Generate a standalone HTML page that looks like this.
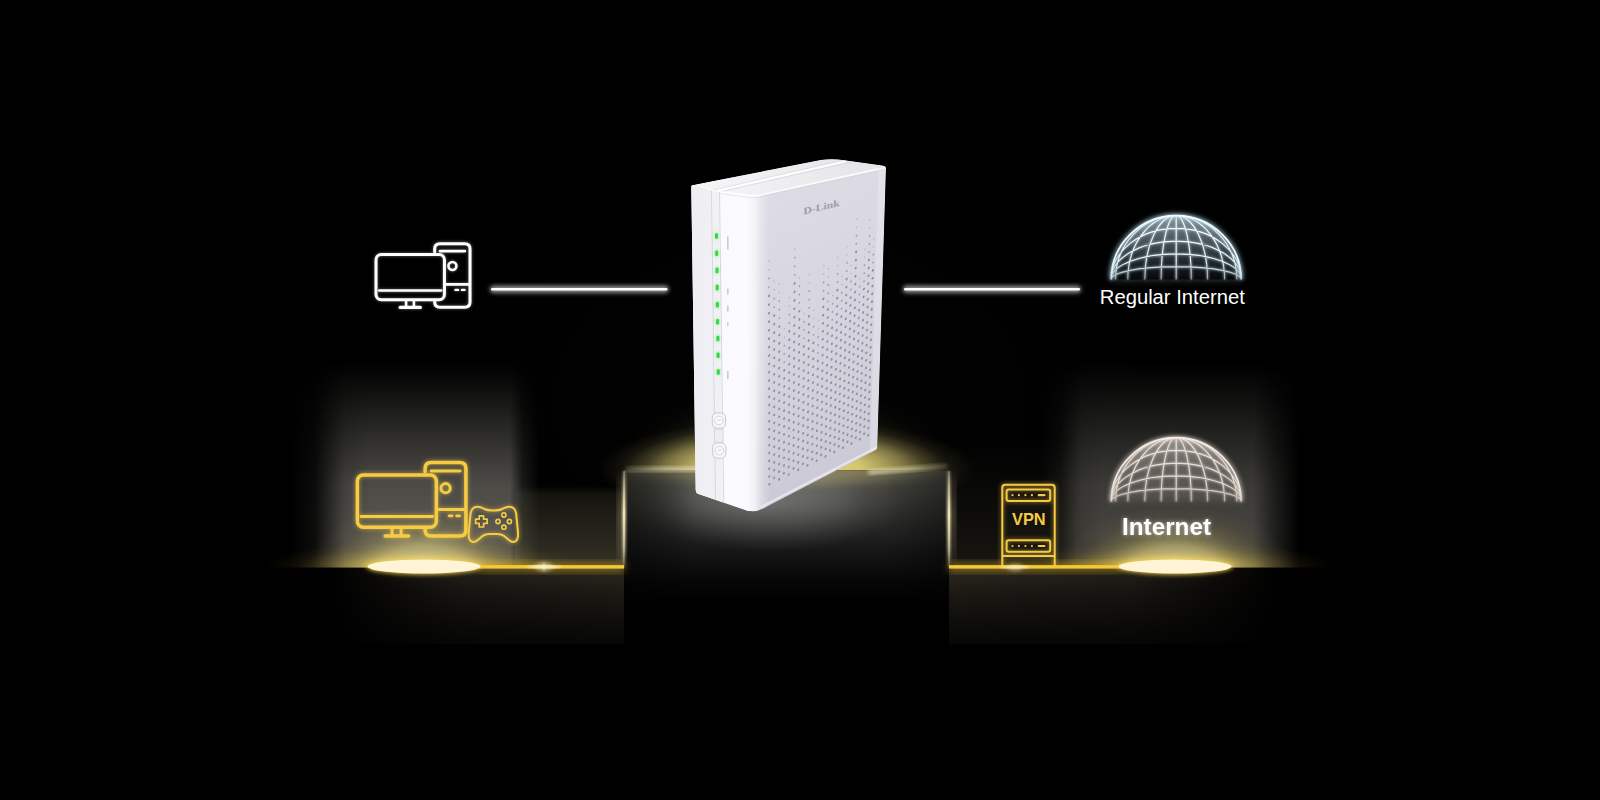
<!DOCTYPE html>
<html lang="en"><head><meta charset="utf-8"><title>VPN Router</title>
<style>html,body{margin:0;padding:0;background:#000;width:1600px;height:800px;overflow:hidden}svg{display:block}text{font-family:"Liberation Sans",sans-serif}</style>
</head><body>
<svg width="1600" height="800" viewBox="0 0 1600 800">
<defs>
<radialGradient id="bgG" cx="790" cy="400" r="1" gradientUnits="userSpaceOnUse" gradientTransform="translate(790 400) scale(430 300) translate(-790 -400)"><stop offset="0" stop-color="#0b0b0b"/><stop offset="0.6" stop-color="#040404"/><stop offset="1" stop-color="#000"/></radialGradient>
<filter id="b2" x="-50%" y="-50%" width="200%" height="200%"><feGaussianBlur stdDeviation="2"/></filter>
<filter id="b1" x="-50%" y="-50%" width="200%" height="200%"><feGaussianBlur stdDeviation="1.2"/></filter>
<filter id="b4" x="-50%" y="-50%" width="200%" height="200%"><feGaussianBlur stdDeviation="4"/></filter>
<filter id="b8" x="-50%" y="-50%" width="200%" height="200%"><feGaussianBlur stdDeviation="8"/></filter>
<filter id="b14" x="-50%" y="-50%" width="200%" height="200%"><feGaussianBlur stdDeviation="14"/></filter>
<filter id="b25" x="-50%" y="-50%" width="200%" height="200%"><feGaussianBlur stdDeviation="25"/></filter>
<linearGradient id="beamL" x1="0" y1="362" x2="0" y2="567" gradientUnits="userSpaceOnUse"><stop offset="0" stop-color="#8a8880" stop-opacity="0"/><stop offset="0.12" stop-color="#8a8880" stop-opacity="0.1"/><stop offset="0.35" stop-color="#8a8880" stop-opacity="0.32"/><stop offset="0.6" stop-color="#8a8880" stop-opacity="0.55"/><stop offset="0.8" stop-color="#8a8880" stop-opacity="0.62"/><stop offset="1" stop-color="#8a8880" stop-opacity="0.58"/></linearGradient>
<radialGradient id="discGlow" cx="0.5" cy="0.5" r="0.5"><stop offset="0" stop-color="#f8e278" stop-opacity="1"/><stop offset="0.36" stop-color="#f0d258" stop-opacity="0.8"/><stop offset="0.58" stop-color="#d8b840" stop-opacity="0.36"/><stop offset="0.8" stop-color="#c0a030" stop-opacity="0.1"/><stop offset="1" stop-color="#c0a030" stop-opacity="0"/></radialGradient>
<radialGradient id="pedGlow" cx="0.5" cy="0.5" r="0.5"><stop offset="0" stop-color="#f3e48e" stop-opacity="1"/><stop offset="0.55" stop-color="#e6d272" stop-opacity="0.95"/><stop offset="0.75" stop-color="#d6c060" stop-opacity="0.6"/><stop offset="0.9" stop-color="#c4ac4c" stop-opacity="0.25"/><stop offset="1" stop-color="#b89c38" stop-opacity="0"/></radialGradient><radialGradient id="pedHalo" cx="0.5" cy="0.5" r="0.5"><stop offset="0" stop-color="#b8a868" stop-opacity="0.6"/><stop offset="0.5" stop-color="#a09058" stop-opacity="0.38"/><stop offset="0.8" stop-color="#8a7c48" stop-opacity="0.12"/><stop offset="1" stop-color="#8a7c48" stop-opacity="0"/></radialGradient>
<linearGradient id="bandG" x1="0" y1="486" x2="0" y2="567" gradientUnits="userSpaceOnUse"><stop offset="0" stop-color="#58543f" stop-opacity="0"/><stop offset="0.1" stop-color="#58543f" stop-opacity="0.22"/><stop offset="1" stop-color="#58543f" stop-opacity="0.6"/></linearGradient>
<linearGradient id="pedG" x1="0" y1="470" x2="0" y2="602" gradientUnits="userSpaceOnUse"><stop offset="0" stop-color="#4a4943"/><stop offset="0.2" stop-color="#3b3b37"/><stop offset="0.42" stop-color="#272726"/><stop offset="0.63" stop-color="#151515"/><stop offset="0.85" stop-color="#060606"/><stop offset="1" stop-color="#000"/></linearGradient><radialGradient id="pedHi" cx="770" cy="502" r="1" gradientUnits="userSpaceOnUse" gradientTransform="translate(770 502) scale(135 50) translate(-770 -502)"><stop offset="0" stop-color="#fff" stop-opacity="0.2"/><stop offset="0.5" stop-color="#fff" stop-opacity="0.1"/><stop offset="1" stop-color="#fff" stop-opacity="0"/></radialGradient><linearGradient id="pedSide" x1="624" y1="0" x2="949" y2="0" gradientUnits="userSpaceOnUse"><stop offset="0" stop-color="#000" stop-opacity="0.45"/><stop offset="0.22" stop-color="#000" stop-opacity="0"/><stop offset="0.8" stop-color="#000" stop-opacity="0"/><stop offset="1" stop-color="#000" stop-opacity="0.4"/></linearGradient>
<clipPath id="aboveFloor"><rect x="0" y="0" width="1600" height="567.5"/></clipPath>
<clipPath id="abovePed"><rect x="0" y="0" width="1600" height="470.5"/></clipPath>
<clipPath id="pedClip"><rect x="624" y="470.5" width="325" height="330"/></clipPath>
<linearGradient id="rFront" x1="691" y1="0" x2="760" y2="0" gradientUnits="userSpaceOnUse"><stop offset="0" stop-color="#f3f3f6"/><stop offset="0.25" stop-color="#fafafc"/><stop offset="0.8" stop-color="#fbfbfd"/><stop offset="1" stop-color="#fbfbfd"/></linearGradient>
<linearGradient id="rSide" x1="760" y1="200" x2="890" y2="470" gradientUnits="userSpaceOnUse"><stop offset="0" stop-color="#dddce5"/><stop offset="0.5" stop-color="#d5d4de"/><stop offset="1" stop-color="#c9c8d4"/></linearGradient>
<linearGradient id="rCorner" x1="746" y1="0" x2="770" y2="0" gradientUnits="userSpaceOnUse"><stop offset="0" stop-color="#fbfbfd" stop-opacity="1"/><stop offset="0.35" stop-color="#f8f8fb" stop-opacity="0.85"/><stop offset="0.7" stop-color="#f0f0f5" stop-opacity="0.35"/><stop offset="1" stop-color="#f0f0f5" stop-opacity="0"/></linearGradient>
<linearGradient id="rTop" x1="700" y1="190" x2="860" y2="160" gradientUnits="userSpaceOnUse"><stop offset="0" stop-color="#f6f6f8"/><stop offset="1" stop-color="#e6e6ea"/></linearGradient>
<linearGradient id="domeFillW" x1="0" y1="215" x2="0" y2="280" gradientUnits="userSpaceOnUse"><stop offset="0" stop-color="#b9c6cc" stop-opacity="0.75"/><stop offset="0.55" stop-color="#59646a" stop-opacity="0.6"/><stop offset="1" stop-color="#10161a" stop-opacity="0.2"/></linearGradient>
<linearGradient id="domeFillY" x1="0" y1="215" x2="0" y2="280" gradientUnits="userSpaceOnUse"><stop offset="0" stop-color="#d6ccc6" stop-opacity="0.7"/><stop offset="0.55" stop-color="#8a8480" stop-opacity="0.5"/><stop offset="1" stop-color="#5a5652" stop-opacity="0.15"/></linearGradient>
<linearGradient id="lineFadeL" x1="624" y1="0" x2="482" y2="0" gradientUnits="userSpaceOnUse"><stop offset="0" stop-color="#f3c316"/><stop offset="1" stop-color="#f3c316"/></linearGradient>
<linearGradient id="edgeV" x1="0" y1="470" x2="0" y2="568" gradientUnits="userSpaceOnUse"><stop offset="0" stop-color="#fff4c0" stop-opacity="0.25"/><stop offset="0.45" stop-color="#fff4c0" stop-opacity="0.95"/><stop offset="0.8" stop-color="#fff4c0" stop-opacity="0.55"/><stop offset="1" stop-color="#fff4c0" stop-opacity="0.1"/></linearGradient>
<linearGradient id="hBeamL" x1="290" y1="0" x2="540" y2="0" gradientUnits="userSpaceOnUse"><stop offset="0" stop-color="#fff" stop-opacity="0"/><stop offset="0.10" stop-color="#fff" stop-opacity="0.15"/><stop offset="0.22" stop-color="#fff" stop-opacity="0.85"/><stop offset="0.32" stop-color="#fff" stop-opacity="1"/><stop offset="0.88" stop-color="#fff" stop-opacity="1"/><stop offset="0.93" stop-color="#fff" stop-opacity="0.35"/><stop offset="1" stop-color="#fff" stop-opacity="0"/></linearGradient>
<mask id="mBeamL" maskUnits="userSpaceOnUse" x="290" y="350" width="250" height="230"><rect x="290" y="350" width="250" height="230" fill="url(#hBeamL)"/></mask>
<linearGradient id="hBeamR" x1="1040" y1="0" x2="1300" y2="0" gradientUnits="userSpaceOnUse"><stop offset="0" stop-color="#fff" stop-opacity="0"/><stop offset="0.08" stop-color="#fff" stop-opacity="0.25"/><stop offset="0.16" stop-color="#fff" stop-opacity="0.9"/><stop offset="0.24" stop-color="#fff" stop-opacity="1"/><stop offset="0.82" stop-color="#fff" stop-opacity="1"/><stop offset="0.9" stop-color="#fff" stop-opacity="0.5"/><stop offset="1" stop-color="#fff" stop-opacity="0"/></linearGradient>
<mask id="mBeamR" maskUnits="userSpaceOnUse" x="1040" y="350" width="260" height="230"><rect x="1040" y="350" width="260" height="230" fill="url(#hBeamR)"/></mask>
<linearGradient id="bandG2" x1="0" y1="440" x2="0" y2="567" gradientUnits="userSpaceOnUse"><stop offset="0" stop-color="#4a4638" stop-opacity="0"/><stop offset="0.5" stop-color="#4a4638" stop-opacity="0.14"/><stop offset="1" stop-color="#4a4638" stop-opacity="0.3"/></linearGradient>
<linearGradient id="slabV" x1="0" y1="568" x2="0" y2="644" gradientUnits="userSpaceOnUse"><stop offset="0" stop-color="#2e2a20"/><stop offset="0.3" stop-color="#1d1a15"/><stop offset="0.7" stop-color="#0f0e0c"/><stop offset="1" stop-color="#070706"/></linearGradient>
<linearGradient id="hSlabL" x1="330" y1="0" x2="624" y2="0" gradientUnits="userSpaceOnUse"><stop offset="0" stop-color="#fff" stop-opacity="0"/><stop offset="0.45" stop-color="#fff" stop-opacity="0.8"/><stop offset="1" stop-color="#fff" stop-opacity="1"/></linearGradient>
<mask id="mSlabL" maskUnits="userSpaceOnUse" x="330" y="560" width="300" height="90"><rect x="330" y="560" width="300" height="90" fill="url(#hSlabL)"/></mask>
<linearGradient id="hSlabR" x1="1279" y1="0" x2="949" y2="0" gradientUnits="userSpaceOnUse"><stop offset="0" stop-color="#fff" stop-opacity="0"/><stop offset="0.45" stop-color="#fff" stop-opacity="0.8"/><stop offset="1" stop-color="#fff" stop-opacity="1"/></linearGradient>
<mask id="mSlabR" maskUnits="userSpaceOnUse" x="940" y="560" width="345" height="90"><rect x="940" y="560" width="345" height="90" fill="url(#hSlabR)"/></mask>
<radialGradient id="khaki" cx="0.5" cy="0.5" r="0.5"><stop offset="0" stop-color="#e8d87a" stop-opacity="1"/><stop offset="0.4" stop-color="#e3d378" stop-opacity="0.92"/><stop offset="0.55" stop-color="#decf76" stop-opacity="0.68"/><stop offset="0.65" stop-color="#dacb74" stop-opacity="0.5"/><stop offset="0.75" stop-color="#d6c772" stop-opacity="0.27"/><stop offset="0.87" stop-color="#d2c370" stop-opacity="0.08"/><stop offset="1" stop-color="#d2c370" stop-opacity="0"/></radialGradient>
<linearGradient id="strkL" x1="626" y1="0" x2="698" y2="0" gradientUnits="userSpaceOnUse"><stop offset="0" stop-color="#e8dfb4" stop-opacity="0.35"/><stop offset="0.5" stop-color="#ece3b8" stop-opacity="0.85"/><stop offset="1" stop-color="#f0e8c0" stop-opacity="1"/></linearGradient>
<linearGradient id="strkR" x1="868" y1="0" x2="948" y2="0" gradientUnits="userSpaceOnUse"><stop offset="0" stop-color="#f0e8c0" stop-opacity="1"/><stop offset="0.5" stop-color="#ece3b8" stop-opacity="0.85"/><stop offset="1" stop-color="#e8dfb4" stop-opacity="0.3"/></linearGradient>
<radialGradient id="discGlow2" cx="0.5" cy="0.5" r="0.5"><stop offset="0" stop-color="#faf0b4" stop-opacity="1"/><stop offset="0.36" stop-color="#f0e08a" stop-opacity="0.75"/><stop offset="0.58" stop-color="#d8c468" stop-opacity="0.34"/><stop offset="0.8" stop-color="#c0aa50" stop-opacity="0.1"/><stop offset="1" stop-color="#c0aa50" stop-opacity="0"/></radialGradient>
<filter id="txtGlow" x="-20%" y="-50%" width="140%" height="200%"><feGaussianBlur in="SourceGraphic" stdDeviation="2" result="bl"/><feComponentTransfer in="bl" result="bl2"><feFuncA type="linear" slope="0.6"/></feComponentTransfer><feMerge><feMergeNode in="bl2"/><feMergeNode in="SourceGraphic"/></feMerge></filter>
</defs>
<rect width="1600" height="800" fill="#000"/>
<rect width="1600" height="800" fill="url(#bgG)" opacity="0.25"/>
<g clip-path="url(#aboveFloor)">
<rect x="290" y="360" width="250" height="208" fill="url(#beamL)" mask="url(#mBeamL)"/>
<rect x="515" y="470" width="109" height="98" fill="url(#bandG)"/>
<ellipse cx="424" cy="567.5" rx="160" ry="26" fill="url(#discGlow)" opacity="0.7"/>
<ellipse cx="424" cy="567.5" rx="118" ry="62" fill="url(#discGlow2)" opacity="0.7"/>
<rect x="1040" y="360" width="260" height="208" fill="url(#beamL)" mask="url(#mBeamR)" opacity="0.78"/>
<rect x="949" y="440" width="130" height="128" fill="url(#bandG2)"/>
<ellipse cx="1175" cy="567.5" rx="160" ry="26" fill="url(#discGlow)" opacity="0.7"/>
<ellipse cx="1175" cy="567.5" rx="118" ry="62" fill="url(#discGlow2)" opacity="0.7"/>
</g>
<rect x="330" y="568" width="294" height="76" fill="url(#slabV)" mask="url(#mSlabL)"/>
<rect x="949" y="568" width="330" height="76" fill="url(#slabV)" mask="url(#mSlabR)"/>
<ellipse cx="786" cy="470" rx="170" ry="85" fill="url(#khaki)" opacity="0.22"/>
<ellipse cx="786" cy="469" rx="188" ry="50" fill="url(#khaki)"/>
<rect x="624" y="470.5" width="325" height="330" fill="#000"/>
<rect x="624" y="470.5" width="325" height="330" fill="url(#pedG)"/>
<rect x="624" y="470.5" width="325" height="150" fill="url(#pedHi)"/>
<rect x="624" y="470.5" width="325" height="150" fill="url(#pedSide)"/>
<g clip-path="url(#pedClip)"><ellipse cx="786" cy="468" rx="190" ry="26" fill="url(#khaki)" opacity="0.36"/></g>
<rect x="626" y="467.6" width="72" height="3.4" fill="url(#strkL)" filter="url(#b2)"/>
<rect x="868" y="467.6" width="80" height="3.4" fill="url(#strkR)" filter="url(#b2)" transform="rotate(-4.5 908 469.5)"/>
<rect x="619" y="476" width="6" height="88" fill="url(#edgeV)" opacity="0.45" filter="url(#b4)"/>
<rect x="622.5" y="471" width="3" height="97" fill="url(#edgeV)" filter="url(#b1)"/>
<rect x="623.3" y="471" width="1.4" height="97" fill="url(#edgeV)"/>
<rect x="948" y="476" width="6" height="88" fill="url(#edgeV)" opacity="0.45" filter="url(#b4)"/>
<rect x="947.5" y="471" width="3" height="97" fill="url(#edgeV)" filter="url(#b1)"/>
<rect x="948.3" y="471" width="1.4" height="97" fill="url(#edgeV)"/>
<rect x="478" y="563" width="146" height="8" fill="#e0b020" opacity="0.55" filter="url(#b4)"/>
<rect x="478" y="565.1" width="146" height="3.5" fill="#f2c936"/>
<rect x="949" y="563" width="173" height="8" fill="#e0b020" opacity="0.55" filter="url(#b4)"/>
<rect x="949" y="565.1" width="173" height="3.5" fill="#f2c936"/>
<ellipse cx="544" cy="566.8" rx="9" ry="4" fill="#fff6c8" opacity="0.55" filter="url(#b2)"/><ellipse cx="544" cy="566.8" rx="18" ry="1.3" fill="#fffbe0" opacity="0.8" filter="url(#b1)"/><ellipse cx="544" cy="566.8" rx="1.2" ry="5" fill="#fffbe0" opacity="0.5" filter="url(#b1)"/>
<ellipse cx="1015" cy="567.2" rx="8" ry="3.5" fill="#fff6c8" opacity="0.45" filter="url(#b2)"/><ellipse cx="1015" cy="567.2" rx="15" ry="1.2" fill="#fffbe0" opacity="0.7" filter="url(#b1)"/>
<ellipse cx="424" cy="566.5" rx="58" ry="8.2" fill="#f0cf4a" opacity="0.9" filter="url(#b2)"/>
<ellipse cx="424" cy="566.5" rx="56.5" ry="7" fill="#fff5d6"/>
<ellipse cx="1175" cy="566.5" rx="58" ry="8.2" fill="#f0cf4a" opacity="0.9" filter="url(#b2)"/>
<ellipse cx="1175" cy="566.5" rx="56.5" ry="7" fill="#fff5d6"/>
<rect x="490" y="285.7" width="178.5" height="7" rx="3.5" fill="#fff" opacity="0.6" filter="url(#b2)"/>
<rect x="491" y="287.9" width="176.5" height="2.6" rx="1.3" fill="#fff"/>
<rect x="903" y="285.7" width="178" height="7" rx="3.5" fill="#fff" opacity="0.6" filter="url(#b2)"/>
<rect x="904" y="287.9" width="176" height="2.6" rx="1.3" fill="#fff"/>
<g transform="translate(355.6 473.2) scale(1.0)" fill="none" stroke="#f6cc45" stroke-linecap="round" stroke-linejoin="round"><g opacity="0.55" filter="url(#b2)"><path stroke-width="4.2" d="M69.5 -1.5 V-4.8 Q69.5 -10.8 75.5 -10.8 H104.3 Q110.3 -10.8 110.3 -4.8 V56.7 Q110.3 62.7 104.3 62.7 H75.5 Q69.5 62.7 69.5 56.7 V55"/><path stroke-width="3.57" d="M75.5 -2.2 H104.5"/><circle stroke-width="3.57" cx="90" cy="15" r="4.6"/><path stroke-width="3.57" d="M83 36.2 H110"/><path stroke-width="3.3600000000000003" d="M93.5 42.6 H96.5 M101 42.6 H104"/><rect stroke-width="4.2" x="1.75" y="1.75" width="79" height="52.2" rx="6" ry="6"/><path stroke-width="3.57" d="M5.5 43.4 H77"/><path stroke-width="3.57" d="M36.5 56 V61 M45.5 56 V61"/><path stroke-width="4.2" d="M29.5 62.8 H53"/></g><path stroke-width="3.5" d="M69.5 -1.5 V-4.8 Q69.5 -10.8 75.5 -10.8 H104.3 Q110.3 -10.8 110.3 -4.8 V56.7 Q110.3 62.7 104.3 62.7 H75.5 Q69.5 62.7 69.5 56.7 V55"/><path stroke-width="2.975" d="M75.5 -2.2 H104.5"/><circle stroke-width="2.975" cx="90" cy="15" r="4.6"/><path stroke-width="2.975" d="M83 36.2 H110"/><path stroke-width="2.8000000000000003" d="M93.5 42.6 H96.5 M101 42.6 H104"/><rect stroke-width="3.5" x="1.75" y="1.75" width="79" height="52.2" rx="6" ry="6"/><path stroke-width="2.975" d="M5.5 43.4 H77"/><path stroke-width="2.975" d="M36.5 56 V61 M45.5 56 V61"/><path stroke-width="3.5" d="M29.5 62.8 H53"/><g opacity="0.55" filter="url(#b2)" stroke-width="2.6"><path d="M122 33.5 C118 33.5 115.8 36 115 40 L113.2 58 C112.6 64 113.6 68.6 117.6 68.8 C121.5 69 124.5 64.5 127.5 62.5 C129.5 61.2 131 60.8 133.5 60.8 H142 C144.5 60.8 146 61.2 148 62.5 C151 64.5 154 69 157.9 68.8 C161.9 68.6 162.9 64 162.3 58 L160.5 40 C159.7 36 157.5 33.5 153.5 33.5 C150.5 33.5 148.5 34.8 146.5 35.8 C144.5 36.8 142.5 37.2 137.75 37.2 C133 37.2 131 36.8 129 35.8 C127 34.8 125 33.5 122 33.5 Z"/></g><g stroke-width="2"><path d="M122 33.5 C118 33.5 115.8 36 115 40 L113.2 58 C112.6 64 113.6 68.6 117.6 68.8 C121.5 69 124.5 64.5 127.5 62.5 C129.5 61.2 131 60.8 133.5 60.8 H142 C144.5 60.8 146 61.2 148 62.5 C151 64.5 154 69 157.9 68.8 C161.9 68.6 162.9 64 162.3 58 L160.5 40 C159.7 36 157.5 33.5 153.5 33.5 C150.5 33.5 148.5 34.8 146.5 35.8 C144.5 36.8 142.5 37.2 137.75 37.2 C133 37.2 131 36.8 129 35.8 C127 34.8 125 33.5 122 33.5 Z"/><path stroke-width="1.7" d="M123.6 42.6 H128 V46 H131.6 V50.2 H128 V53.8 H123.6 V50.2 H120 V46 H123.6 Z"/><g stroke-width="1.6"><circle cx="148.3" cy="41.8" r="2.1"/><circle cx="142.4" cy="48.3" r="2.1"/><circle cx="153.8" cy="48.3" r="2.1"/><circle cx="148.3" cy="54" r="2.1"/></g></g></g>
<g transform="translate(374.5 253.0) scale(0.866)" fill="none" stroke="#ffffff" stroke-linecap="round" stroke-linejoin="round"><rect x="1.75" y="1.75" width="79" height="52.2" rx="6" fill="#000" stroke="none"/><g opacity="0.35" filter="url(#b2)"><path stroke-width="4.2" d="M69.5 -1.5 V-4.8 Q69.5 -10.8 75.5 -10.8 H104.3 Q110.3 -10.8 110.3 -4.8 V56.7 Q110.3 62.7 104.3 62.7 H75.5 Q69.5 62.7 69.5 56.7 V55"/><path stroke-width="3.57" d="M75.5 -2.2 H104.5"/><circle stroke-width="3.57" cx="90" cy="15" r="4.6"/><path stroke-width="3.57" d="M83 36.2 H110"/><path stroke-width="3.3600000000000003" d="M93.5 42.6 H96.5 M101 42.6 H104"/><rect stroke-width="4.2" x="1.75" y="1.75" width="79" height="52.2" rx="6" ry="6"/><path stroke-width="3.57" d="M5.5 43.4 H77"/><path stroke-width="3.57" d="M36.5 56 V61 M45.5 56 V61"/><path stroke-width="4.2" d="M29.5 62.8 H53"/></g><path stroke-width="3.5" d="M69.5 -1.5 V-4.8 Q69.5 -10.8 75.5 -10.8 H104.3 Q110.3 -10.8 110.3 -4.8 V56.7 Q110.3 62.7 104.3 62.7 H75.5 Q69.5 62.7 69.5 56.7 V55"/><path stroke-width="2.975" d="M75.5 -2.2 H104.5"/><circle stroke-width="2.975" cx="90" cy="15" r="4.6"/><path stroke-width="2.975" d="M83 36.2 H110"/><path stroke-width="2.8000000000000003" d="M93.5 42.6 H96.5 M101 42.6 H104"/><rect stroke-width="3.5" x="1.75" y="1.75" width="79" height="52.2" rx="6" ry="6"/><path stroke-width="2.975" d="M5.5 43.4 H77"/><path stroke-width="2.975" d="M36.5 56 V61 M45.5 56 V61"/><path stroke-width="3.5" d="M29.5 62.8 H53"/></g>
<rect x="1002.4" y="484.8" width="52.2" height="71" fill="#15140f" opacity="0.85"/><g fill="none" stroke="#f6cb43" stroke-linejoin="round" opacity="0.5" filter="url(#b2)"><path stroke-width="2.8" d="M1002.3 566 V487.7 Q1002.3 484.7 1005.3 484.7 H1051.7 Q1054.7 484.7 1054.7 487.7 V566 M1002.3 556 H1054.7"/><rect stroke-width="2.8" x="1006.6" y="489.4" width="43.6" height="11.6" rx="2"/><rect stroke-width="2.8" x="1006.6" y="540.2" width="43.6" height="11.6" rx="2"/></g><g fill="none" stroke="#f6cb43" stroke-linejoin="round"><path stroke-width="2" d="M1002.3 566 V487.7 Q1002.3 484.7 1005.3 484.7 H1051.7 Q1054.7 484.7 1054.7 487.7 V566 M1002.3 556 H1054.7"/><rect stroke-width="2" x="1006.6" y="489.4" width="43.6" height="11.6" rx="2"/><rect stroke-width="2" x="1006.6" y="540.2" width="43.6" height="11.6" rx="2"/></g><circle cx="1012.5" cy="495.2" r="1.1" fill="#f6cb43"/><circle cx="1018.9" cy="495.2" r="1.1" fill="#f6cb43"/><circle cx="1025.4" cy="495.2" r="1.1" fill="#f6cb43"/><circle cx="1031.9" cy="495.2" r="1.1" fill="#f6cb43"/><rect x="1037.6" y="494.09999999999997" width="8" height="2.2" rx="1.1" fill="#f6cb43"/><circle cx="1012.5" cy="546" r="1.1" fill="#f6cb43"/><circle cx="1018.9" cy="546" r="1.1" fill="#f6cb43"/><circle cx="1025.4" cy="546" r="1.1" fill="#f6cb43"/><circle cx="1031.9" cy="546" r="1.1" fill="#f6cb43"/><rect x="1037.6" y="544.9" width="8" height="2.2" rx="1.1" fill="#f6cb43"/><text x="1028.8" y="525.4" font-size="16.3" font-weight="700" fill="#f6cb43" text-anchor="middle" textLength="33.6" lengthAdjust="spacingAndGlyphs">VPN</text>
<linearGradient id="dWF" x1="0" y1="215.59999999999997" x2="0" y2="279.4" gradientUnits="userSpaceOnUse"><stop offset="0" stop-color="#8f9aa0"/><stop offset="0.3" stop-color="#586166"/><stop offset="0.6" stop-color="#30363a"/><stop offset="0.85" stop-color="#14181a"/><stop offset="1" stop-color="#060708"/></linearGradient><linearGradient id="dWS" x1="0" y1="215.59999999999997" x2="0" y2="280.4" gradientUnits="userSpaceOnUse"><stop offset="0" stop-color="#f6fcff" stop-opacity="1"/><stop offset="0.7" stop-color="#f6fcff" stop-opacity="0.95"/><stop offset="1" stop-color="#f6fcff" stop-opacity="0.45"/></linearGradient><path d="M1111.2 279.4 A65.0 63.8 0 0 1 1241.2 279.4 Z" fill="#a9cfe0" opacity="0.32" filter="url(#b4)"/><path d="M1111.2 279.4 A65.0 63.8 0 0 1 1241.2 279.4 Z" fill="url(#dWF)"/><path d="M1111.20 279.40 A65.0 12.76 0 0 1 1241.20 279.40 M1111.20 279.40 A65.0 25.52 0 0 1 1241.20 279.40 M1111.20 279.40 A65.0 38.28 0 0 1 1241.20 279.40 M1111.20 279.40 A65.0 51.04 0 0 1 1241.20 279.40 M1161.10 279.40 A15.1 63.8 0 0 1 1191.30 279.40 M1144.80 279.40 A31.4 63.8 0 0 1 1207.60 279.40 M1127.80 279.40 A48.4 63.8 0 0 1 1224.60 279.40 M1115.60 279.40 A60.6 63.8 0 0 1 1236.80 279.40 M1176.2 279.4 V215.59999999999997" fill="none" stroke="#a9cfe0" stroke-width="2.64" opacity="0.5249999999999999" filter="url(#b1)"/><path d="M1111.20 279.40 A65.0 12.76 0 0 1 1241.20 279.40 M1111.20 279.40 A65.0 25.52 0 0 1 1241.20 279.40 M1111.20 279.40 A65.0 38.28 0 0 1 1241.20 279.40 M1111.20 279.40 A65.0 51.04 0 0 1 1241.20 279.40 M1161.10 279.40 A15.1 63.8 0 0 1 1191.30 279.40 M1144.80 279.40 A31.4 63.8 0 0 1 1207.60 279.40 M1127.80 279.40 A48.4 63.8 0 0 1 1224.60 279.40 M1115.60 279.40 A60.6 63.8 0 0 1 1236.80 279.40 M1176.2 279.4 V215.59999999999997" fill="none" stroke="url(#dWS)" stroke-width="1.1" opacity="1.0"/><path d="M1111.2 279.4 A65.0 63.8 0 0 1 1241.2 279.4" fill="none" stroke="#a9cfe0" stroke-width="3.5200000000000005" opacity="0.75" filter="url(#b2)"/><path d="M1111.2 279.4 A65.0 63.8 0 0 1 1241.2 279.4" fill="none" stroke="url(#dWS)" stroke-width="1.7600000000000002"/>
<linearGradient id="dYF" x1="0" y1="437.59999999999997" x2="0" y2="501.4" gradientUnits="userSpaceOnUse"><stop offset="0" stop-color="#d8cec8" stop-opacity="0.6"/><stop offset="0.35" stop-color="#a8a19b" stop-opacity="0.42"/><stop offset="0.7" stop-color="#8a857f" stop-opacity="0.2"/><stop offset="1" stop-color="#6a6662" stop-opacity="0.03"/></linearGradient><linearGradient id="dYS" x1="0" y1="437.59999999999997" x2="0" y2="502.4" gradientUnits="userSpaceOnUse"><stop offset="0" stop-color="#f3ebe6" stop-opacity="1"/><stop offset="0.7" stop-color="#f3ebe6" stop-opacity="0.95"/><stop offset="1" stop-color="#f3ebe6" stop-opacity="0.45"/></linearGradient><path d="M1111.2 501.4 A65.0 63.8 0 0 1 1241.2 501.4 Z" fill="#e6d8ce" opacity="0.12" filter="url(#b4)"/><path d="M1111.2 501.4 A65.0 63.8 0 0 1 1241.2 501.4 Z" fill="url(#dYF)"/><path d="M1111.20 501.40 A65.0 12.76 0 0 1 1241.20 501.40 M1111.20 501.40 A65.0 25.52 0 0 1 1241.20 501.40 M1111.20 501.40 A65.0 38.28 0 0 1 1241.20 501.40 M1111.20 501.40 A65.0 51.04 0 0 1 1241.20 501.40 M1161.10 501.40 A15.1 63.8 0 0 1 1191.30 501.40 M1144.80 501.40 A31.4 63.8 0 0 1 1207.60 501.40 M1127.80 501.40 A48.4 63.8 0 0 1 1224.60 501.40 M1115.60 501.40 A60.6 63.8 0 0 1 1236.80 501.40 M1176.2 501.4 V437.59999999999997" fill="none" stroke="#e6d8ce" stroke-width="2.52" opacity="0.48999999999999994" filter="url(#b1)"/><path d="M1111.20 501.40 A65.0 12.76 0 0 1 1241.20 501.40 M1111.20 501.40 A65.0 25.52 0 0 1 1241.20 501.40 M1111.20 501.40 A65.0 38.28 0 0 1 1241.20 501.40 M1111.20 501.40 A65.0 51.04 0 0 1 1241.20 501.40 M1161.10 501.40 A15.1 63.8 0 0 1 1191.30 501.40 M1144.80 501.40 A31.4 63.8 0 0 1 1207.60 501.40 M1127.80 501.40 A48.4 63.8 0 0 1 1224.60 501.40 M1115.60 501.40 A60.6 63.8 0 0 1 1236.80 501.40 M1176.2 501.4 V437.59999999999997" fill="none" stroke="url(#dYS)" stroke-width="1.05" opacity="0.9"/><path d="M1111.2 501.4 A65.0 63.8 0 0 1 1241.2 501.4" fill="none" stroke="#e6d8ce" stroke-width="3.3600000000000003" opacity="0.7" filter="url(#b2)"/><path d="M1111.2 501.4 A65.0 63.8 0 0 1 1241.2 501.4" fill="none" stroke="url(#dYS)" stroke-width="1.6800000000000002"/>
<text x="1172.3" y="304.2" font-size="19.6" fill="#fff" text-anchor="middle" textLength="145" lengthAdjust="spacingAndGlyphs">Regular Internet</text>
<text x="1166.5" y="535" font-size="24.4" font-weight="700" fill="#fff" filter="url(#txtGlow)" text-anchor="middle" textLength="89" lengthAdjust="spacingAndGlyphs">Internet</text>
<g id="router">
<ellipse cx="770" cy="500" rx="90" ry="26" fill="#fff" opacity="0.10" filter="url(#b14)"/>
<clipPath id="rclip"><path d="M691.3 187 Q691.3 185.3 693 185 L821 160 Q832 158.2 844 160.2 L883.5 165.7 Q886 166.1 886 168.5 L877.3 447 Q877.2 449.3 875.5 450.3 L764 508.2 Q753.5 513.6 743 509.3 L698.5 494 Q695.8 493 695.7 490 Z"/></clipPath>
<g clip-path="url(#rclip)">
<path d="M691.3 187 Q691.3 185.3 693 185 L821 160 Q832 158.2 844 160.2 L883.5 165.7 Q886 166.1 886 168.5 L877.3 447 Q877.2 449.3 875.5 450.3 L764 508.2 Q753.5 513.6 743 509.3 L698.5 494 Q695.8 493 695.7 490 Z" fill="url(#rSide)"/>
<path d="M690 184 L747 194.4 L748.5 515 L690 500 Z" fill="url(#rFront)"/>
<path d="M746 190 H780 V520 H746 Z" fill="url(#rCorner)"/>
<path d="M690 185.6 L822 158 L846 158 L888 166.4 L764 193.4 Q757 195.3 752 195.6 L720 191.6 L711.6 190.4 Z" fill="url(#rTop)"/>
<path d="M711.8 190.6 L841 160.6 M720 191.8 L852 161.8" stroke="#d4d4da" stroke-width="0.8" fill="none" opacity="0.9"/>
<path d="M716 191 L846 161.2" stroke="#ffffff" stroke-width="2.2" fill="none" opacity="0.9"/>
<path d="M691.3 185.6 L711.6 190.6 L720 191.8 L752 195.8 Q758 196.2 765 194 L886 167.4" stroke="#fff" stroke-width="1.6" fill="none" opacity="0.95"/>
<path d="M693 187.6 L711.6 192.4 L720 193.6 L752 197.6 Q758 198 765 195.8 L886 169.3" stroke="#cfcfd6" stroke-width="0.7" fill="none" opacity="0.6"/>
<path d="M878.5 168 L886.5 166.4 L877.6 449 L870 453 Z" fill="#ecebf2" opacity="0.45"/>
<path d="M760 507.5 L877 447.2" stroke="#ecebf2" stroke-width="2.2" fill="none" opacity="0.8"/>
<path d="M690 184 L711.6 190.4 L715.6 502 L694 496 Z" fill="#ececf1" opacity="0.75"/>
<path d="M711.6 190.6 L715.6 500.5 M719.5 191.8 L723.7 503" stroke="#cdcdd4" stroke-width="0.8" fill="none"/>
<path d="M712.5 190.9 L716.5 500.8 L722.8 502.7 L718.6 191.7 Z" fill="#f1f1f5"/>
<rect x="713.9" y="232.0" width="5.2" height="8" rx="2.4" fill="#8cf58c" opacity="0.55" filter="url(#b1)"/>
<rect x="715.0" y="233.2" width="3" height="5.6" rx="1.3" fill="#35d843"/>
<rect x="714.1" y="249.3" width="5.2" height="8" rx="2.4" fill="#8cf58c" opacity="0.55" filter="url(#b1)"/>
<rect x="715.2" y="250.5" width="3" height="5.6" rx="1.3" fill="#35d843"/>
<rect x="714.4" y="266.4" width="5.2" height="8" rx="2.4" fill="#8cf58c" opacity="0.55" filter="url(#b1)"/>
<rect x="715.5" y="267.6" width="3" height="5.6" rx="1.3" fill="#35d843"/>
<rect x="714.6" y="283.6" width="5.2" height="8" rx="2.4" fill="#8cf58c" opacity="0.55" filter="url(#b1)"/>
<rect x="715.7" y="284.8" width="3" height="5.6" rx="1.3" fill="#35d843"/>
<rect x="714.8" y="300.8" width="5.2" height="8" rx="2.4" fill="#8cf58c" opacity="0.55" filter="url(#b1)"/>
<rect x="715.9" y="302.0" width="3" height="5.6" rx="1.3" fill="#35d843"/>
<rect x="715.0" y="317.7" width="5.2" height="8" rx="2.4" fill="#8cf58c" opacity="0.55" filter="url(#b1)"/>
<rect x="716.1" y="318.9" width="3" height="5.6" rx="1.3" fill="#35d843"/>
<rect x="715.3" y="334.5" width="5.2" height="8" rx="2.4" fill="#8cf58c" opacity="0.55" filter="url(#b1)"/>
<rect x="716.4" y="335.7" width="3" height="5.6" rx="1.3" fill="#35d843"/>
<rect x="715.5" y="351.3" width="5.2" height="8" rx="2.4" fill="#8cf58c" opacity="0.55" filter="url(#b1)"/>
<rect x="716.6" y="352.5" width="3" height="5.6" rx="1.3" fill="#35d843"/>
<rect x="715.7" y="368.0" width="5.2" height="8" rx="2.4" fill="#8cf58c" opacity="0.55" filter="url(#b1)"/>
<rect x="716.8" y="369.2" width="3" height="5.6" rx="1.3" fill="#35d843"/>
<rect x="727" y="236.5" width="1.6" height="13" fill="#b9b9c1" opacity="0.75"/>
<rect x="727" y="288.5" width="1.6" height="6" fill="#b9b9c1" opacity="0.75"/>
<rect x="727" y="305.5" width="1.6" height="6" fill="#b9b9c1" opacity="0.75"/>
<rect x="727" y="322.25" width="1.6" height="3.5" fill="#b9b9c1" opacity="0.75"/>
<rect x="727" y="371.0" width="1.6" height="8" fill="#b9b9c1" opacity="0.75"/>
<rect x="712.3" y="412.9" width="13.2" height="15.2" rx="4.4" fill="#f7f7fa" stroke="#c3c3cb" stroke-width="0.9"/>
<circle cx="718.9" cy="420.5" r="4.3" fill="#fbfbfd" stroke="#c9c9d0" stroke-width="0.8"/>
<path d="M717.1 421.3 l1.6 -1.8 l0.9 1.2 l1.3 -1.6" stroke="#b5b5bd" stroke-width="0.6" fill="none"/>
<rect x="712.7" y="443.0" width="13.2" height="15.2" rx="4.4" fill="#f7f7fa" stroke="#c3c3cb" stroke-width="0.9"/>
<circle cx="719.3" cy="450.6" r="4.3" fill="#fbfbfd" stroke="#c9c9d0" stroke-width="0.8"/>
<path d="M717.5 451.40000000000003 l1.6 -1.8 l0.9 1.2 l1.3 -1.6" stroke="#b5b5bd" stroke-width="0.6" fill="none"/>
<rect x="714.6" y="429.4" width="8.4" height="12.6" fill="#ededf2" stroke="#cfcfd6" stroke-width="0.6"/>
<path d="M768.9 269.8l0.1 -0.3M768.9 261.0l0.1 -0.3M774.1 290.0l0.1 -0.3M774.1 281.3l0.1 -0.3M779.3 292.7l0.1 -0.3M779.3 284.1l0.1 -0.3M784.3 337.5l0.1 -0.3M784.3 329.1l0.1 -0.3M789.4 306.4l0.1 -0.3M789.4 297.9l0.1 -0.3M794.7 249.2l0.1 -0.3M799.5 277.8l0.1 -0.3M804.1 313.8l0.1 -0.3M809.3 283.1l0.1 -0.3M809.4 274.7l0.1 -0.3M813.7 318.7l0.1 -0.3M813.8 310.5l0.1 -0.3M818.3 329.1l0.1 -0.3M818.4 321.0l0.1 -0.3M823.7 274.3l0.1 -0.3M823.8 266.0l0.1 -0.3M828.3 277.0l0.1 -0.3M828.5 268.7l0.1 -0.3M832.6 295.9l0.1 -0.3M837.8 265.8l0.1 -0.3M837.9 257.6l0.1 -0.3M841.9 284.7l0.1 -0.3M842.1 276.6l0.1 -0.3M847.1 254.8l0.1 -0.3M847.2 246.6l0.1 -0.3M851.1 273.7l0.1 -0.3M851.3 265.6l0.1 -0.3M856.6 227.6l0.1 -0.3M856.8 219.3l0.1 -0.3M859.8 278.8l0.1 -0.3M864.6 257.4l0.1 -0.3M864.9 249.4l0.1 -0.3M869.8 227.9l0.1 -0.3M870.0 219.8l0.1 -0.3M873.5 246.8l0.1 -0.3M873.7 238.8l0.1 -0.3" stroke="#a5a4b2" stroke-width="1.3" stroke-linecap="round" fill="none" opacity="0.75"/>
<path d="M768.8 287.5l0.3 -0.7M768.8 278.8l0.3 -0.7M774.0 307.4l0.3 -0.7M774.0 298.9l0.3 -0.7M779.2 318.5l0.3 -0.7M779.2 310.0l0.3 -0.7M779.2 301.5l0.3 -0.7M784.1 362.5l0.3 -0.7M784.1 354.3l0.3 -0.7M784.2 346.0l0.3 -0.7M789.2 323.4l0.3 -0.7M789.3 315.0l0.3 -0.7M794.5 275.2l0.3 -0.7M794.5 266.7l0.3 -0.7M794.6 258.0l0.3 -0.7M799.2 303.2l0.3 -0.7M799.3 294.9l0.3 -0.7M799.4 286.4l0.3 -0.7M803.8 338.7l0.3 -0.7M803.9 330.5l0.3 -0.7M804.0 322.3l0.3 -0.7M808.9 308.2l0.3 -0.7M809.0 300.0l0.3 -0.7M809.1 291.6l0.3 -0.7M813.4 335.1l0.3 -0.7M813.5 327.0l0.3 -0.7M817.8 353.4l0.3 -0.7M817.9 345.4l0.3 -0.7M818.0 337.4l0.3 -0.7M823.4 291.1l0.3 -0.7M823.5 282.8l0.3 -0.7M827.8 301.7l0.3 -0.7M828.0 293.6l0.3 -0.7M828.1 285.4l0.3 -0.7M832.1 320.2l0.3 -0.7M832.3 312.2l0.3 -0.7M832.4 304.2l0.3 -0.7M837.4 282.4l0.3 -0.7M837.5 274.2l0.3 -0.7M841.4 309.0l0.3 -0.7M841.5 301.0l0.3 -0.7M841.7 293.0l0.3 -0.7M846.6 271.3l0.3 -0.7M846.8 263.2l0.3 -0.7M850.6 289.9l0.3 -0.7M850.8 281.9l0.3 -0.7M856.1 244.1l0.3 -0.7M856.3 236.0l0.3 -0.7M859.1 302.7l0.3 -0.7M859.3 294.8l0.3 -0.7M859.5 286.9l0.3 -0.7M863.9 281.5l0.3 -0.7M864.1 273.6l0.3 -0.7M864.3 265.6l0.3 -0.7M869.0 252.3l0.3 -0.7M869.2 244.3l0.3 -0.7M869.4 236.2l0.3 -0.7M873.0 262.9l0.3 -0.7M873.2 254.9l0.3 -0.7" stroke="#9897a7" stroke-width="1.4" stroke-linecap="round" fill="none" opacity="0.9"/>
<path d="M769.1 484.7l0.4 -0.9M769.1 476.9l0.4 -0.9M769.1 469.1l0.4 -0.9M769.0 461.3l0.4 -0.9M769.0 453.4l0.4 -0.9M769.0 445.5l0.4 -0.9M769.0 437.6l0.4 -0.9M769.0 429.6l0.4 -0.9M769.0 421.6l0.4 -0.9M769.0 413.5l0.4 -0.9M769.0 405.4l0.4 -0.9M768.9 397.3l0.4 -0.9M768.9 389.1l0.4 -0.9M768.9 380.9l0.4 -0.9M768.9 372.6l0.4 -0.9M768.9 364.3l0.4 -0.9M768.9 356.0l0.4 -0.9M768.9 347.6l0.4 -0.9M768.8 339.1l0.4 -0.9M768.8 330.7l0.4 -0.9M768.8 322.1l0.4 -0.9M768.8 313.6l0.4 -0.9M768.8 305.0l0.4 -0.9M768.8 296.3l0.4 -0.9M774.0 478.4l0.4 -0.9M774.0 470.6l0.4 -0.9M774.0 462.8l0.4 -0.9M774.0 455.0l0.4 -0.9M774.0 447.2l0.4 -0.9M774.0 439.3l0.4 -0.9M774.0 431.4l0.4 -0.9M774.0 423.4l0.4 -0.9M774.0 415.4l0.4 -0.9M774.0 407.3l0.4 -0.9M774.0 399.2l0.4 -0.9M774.0 391.1l0.4 -0.9M774.0 382.9l0.4 -0.9M774.0 374.7l0.4 -0.9M774.0 366.5l0.4 -0.9M774.0 358.2l0.4 -0.9M774.0 349.9l0.4 -0.9M774.0 341.5l0.4 -0.9M774.0 333.1l0.4 -0.9M774.0 324.6l0.4 -0.9M774.0 316.1l0.4 -0.9M778.9 479.8l0.4 -0.9M778.9 472.1l0.4 -0.9M778.9 464.4l0.4 -0.9M778.9 456.6l0.4 -0.9M778.9 448.8l0.4 -0.9M778.9 441.0l0.4 -0.9M779.0 433.1l0.4 -0.9M779.0 425.2l0.4 -0.9M779.0 417.2l0.4 -0.9M779.0 409.2l0.4 -0.9M779.0 401.2l0.4 -0.9M779.0 393.1l0.4 -0.9M779.0 385.0l0.4 -0.9M779.0 376.8l0.4 -0.9M779.0 368.6l0.4 -0.9M779.1 360.4l0.4 -0.9M779.1 352.1l0.4 -0.9M779.1 343.8l0.4 -0.9M779.1 335.4l0.4 -0.9M779.1 327.0l0.4 -0.9M783.7 473.6l0.4 -0.9M783.8 465.9l0.4 -0.9M783.8 458.2l0.4 -0.9M783.8 450.4l0.4 -0.9M783.8 442.6l0.4 -0.9M783.8 434.8l0.4 -0.9M783.9 426.9l0.4 -0.9M783.9 419.0l0.4 -0.9M783.9 411.1l0.4 -0.9M783.9 403.1l0.4 -0.9M784.0 395.1l0.4 -0.9M784.0 387.0l0.4 -0.9M784.0 378.9l0.4 -0.9M784.0 370.8l0.4 -0.9M788.5 475.0l0.4 -0.9M788.5 467.4l0.4 -0.9M788.6 459.7l0.4 -0.9M788.6 452.0l0.4 -0.9M788.7 444.3l0.4 -0.9M788.7 436.5l0.4 -0.9M788.7 428.7l0.4 -0.9M788.8 420.8l0.4 -0.9M788.8 412.9l0.4 -0.9M788.8 405.0l0.4 -0.9M788.9 397.0l0.4 -0.9M788.9 389.0l0.4 -0.9M788.9 381.0l0.4 -0.9M789.0 372.9l0.4 -0.9M789.0 364.7l0.4 -0.9M789.0 356.6l0.4 -0.9M789.1 348.4l0.4 -0.9M789.1 340.1l0.4 -0.9M789.1 331.8l0.4 -0.9M793.3 468.9l0.4 -0.9M793.3 461.2l0.4 -0.9M793.4 453.6l0.4 -0.9M793.4 445.9l0.4 -0.9M793.5 438.2l0.4 -0.9M793.5 430.4l0.4 -0.9M793.6 422.6l0.4 -0.9M793.6 414.7l0.4 -0.9M793.7 406.9l0.4 -0.9M793.7 398.9l0.4 -0.9M793.7 391.0l0.4 -0.9M793.8 383.0l0.4 -0.9M793.8 374.9l0.4 -0.9M793.9 366.9l0.4 -0.9M793.9 358.8l0.4 -0.9M794.0 350.6l0.4 -0.9M794.0 342.4l0.4 -0.9M794.1 334.2l0.4 -0.9M794.1 325.9l0.4 -0.9M794.2 317.6l0.4 -0.9M794.2 309.2l0.4 -0.9M794.3 300.8l0.4 -0.9M794.3 292.4l0.4 -0.9M794.4 283.9l0.4 -0.9M798.0 470.3l0.4 -0.9M798.0 462.8l0.4 -0.9M798.1 455.1l0.4 -0.9M798.1 447.5l0.4 -0.9M798.2 439.8l0.4 -0.9M798.3 432.1l0.4 -0.9M798.3 424.3l0.4 -0.9M798.4 416.5l0.4 -0.9M798.4 408.7l0.4 -0.9M798.5 400.8l0.4 -0.9M798.5 392.9l0.4 -0.9M798.6 385.0l0.4 -0.9M798.7 377.0l0.4 -0.9M798.7 369.0l0.4 -0.9M798.8 360.9l0.4 -0.9M798.8 352.8l0.4 -0.9M798.9 344.7l0.4 -0.9M799.0 336.5l0.4 -0.9M799.0 328.3l0.4 -0.9M799.1 320.0l0.4 -0.9M799.1 311.7l0.4 -0.9M802.7 464.2l0.4 -0.9M802.7 456.7l0.4 -0.9M802.8 449.1l0.4 -0.9M802.9 441.4l0.4 -0.9M802.9 433.8l0.4 -0.9M803.0 426.1l0.4 -0.9M803.1 418.3l0.4 -0.9M803.1 410.5l0.4 -0.9M803.2 402.7l0.4 -0.9M803.3 394.9l0.4 -0.9M803.3 387.0l0.4 -0.9M803.4 379.0l0.4 -0.9M803.5 371.1l0.4 -0.9M803.6 363.0l0.4 -0.9M803.6 355.0l0.4 -0.9M803.7 346.9l0.4 -0.9M807.3 465.7l0.4 -0.9M807.3 458.2l0.4 -0.9M807.4 450.7l0.4 -0.9M807.5 443.1l0.4 -0.9M807.6 435.4l0.4 -0.9M807.6 427.8l0.4 -0.9M807.7 420.1l0.4 -0.9M807.8 412.3l0.4 -0.9M807.9 404.6l0.4 -0.9M808.0 396.8l0.4 -0.9M808.0 388.9l0.4 -0.9M808.1 381.0l0.4 -0.9M808.2 373.1l0.4 -0.9M808.3 365.2l0.4 -0.9M808.4 357.2l0.4 -0.9M808.5 349.1l0.4 -0.9M808.5 341.0l0.4 -0.9M808.6 332.9l0.4 -0.9M808.7 324.8l0.4 -0.9M808.8 316.6l0.4 -0.9M811.9 459.7l0.4 -0.9M812.0 452.2l0.4 -0.9M812.1 444.7l0.4 -0.9M812.1 437.1l0.4 -0.9M812.2 429.5l0.4 -0.9M812.3 421.8l0.4 -0.9M812.4 414.1l0.4 -0.9M812.5 406.4l0.4 -0.9M812.6 398.7l0.4 -0.9M812.7 390.9l0.4 -0.9M812.8 383.0l0.4 -0.9M812.9 375.2l0.4 -0.9M813.0 367.2l0.4 -0.9M813.1 359.3l0.4 -0.9M813.1 351.3l0.4 -0.9M813.2 343.3l0.4 -0.9M816.4 461.2l0.4 -0.9M816.5 453.7l0.4 -0.9M816.6 446.2l0.4 -0.9M816.7 438.7l0.4 -0.9M816.8 431.1l0.4 -0.9M816.9 423.5l0.4 -0.9M817.0 415.9l0.4 -0.9M817.1 408.2l0.4 -0.9M817.2 400.5l0.4 -0.9M817.3 392.8l0.4 -0.9M817.4 385.0l0.4 -0.9M817.5 377.2l0.4 -0.9M817.6 369.3l0.4 -0.9M817.7 361.4l0.4 -0.9M820.9 455.3l0.4 -0.9M821.0 447.8l0.4 -0.9M821.1 440.3l0.4 -0.9M821.3 432.8l0.4 -0.9M821.4 425.2l0.4 -0.9M821.5 417.6l0.4 -0.9M821.6 410.0l0.4 -0.9M821.7 402.4l0.4 -0.9M821.8 394.7l0.4 -0.9M821.9 386.9l0.4 -0.9M822.0 379.2l0.4 -0.9M822.1 371.3l0.4 -0.9M822.3 363.5l0.4 -0.9M822.4 355.6l0.4 -0.9M822.5 347.7l0.4 -0.9M822.6 339.7l0.4 -0.9M822.7 331.7l0.4 -0.9M822.8 323.7l0.4 -0.9M823.0 315.6l0.4 -0.9M823.1 307.5l0.4 -0.9M823.2 299.3l0.4 -0.9M825.3 456.8l0.4 -0.9M825.5 449.4l0.4 -0.9M825.6 441.9l0.4 -0.9M825.7 434.4l0.4 -0.9M825.8 426.9l0.4 -0.9M825.9 419.4l0.4 -0.9M826.1 411.8l0.4 -0.9M826.2 404.2l0.4 -0.9M826.3 396.5l0.4 -0.9M826.4 388.8l0.4 -0.9M826.5 381.1l0.4 -0.9M826.7 373.4l0.4 -0.9M826.8 365.6l0.4 -0.9M826.9 357.7l0.4 -0.9M827.0 349.9l0.4 -0.9M827.2 341.9l0.4 -0.9M827.3 334.0l0.4 -0.9M827.4 326.0l0.4 -0.9M827.5 318.0l0.4 -0.9M827.7 309.9l0.4 -0.9M829.8 450.9l0.4 -0.9M830.0 443.5l0.4 -0.9M830.1 436.1l0.4 -0.9M830.2 428.6l0.4 -0.9M830.3 421.1l0.4 -0.9M830.5 413.6l0.4 -0.9M830.6 406.0l0.4 -0.9M830.7 398.4l0.4 -0.9M830.9 390.7l0.4 -0.9M831.0 383.1l0.4 -0.9M831.1 375.3l0.4 -0.9M831.3 367.6l0.4 -0.9M831.4 359.8l0.4 -0.9M831.5 352.0l0.4 -0.9M831.7 344.1l0.4 -0.9M831.8 336.2l0.4 -0.9M831.9 328.3l0.4 -0.9M834.1 452.4l0.4 -0.9M834.3 445.0l0.4 -0.9M834.4 437.7l0.4 -0.9M834.6 430.2l0.4 -0.9M834.7 422.8l0.4 -0.9M834.8 415.3l0.4 -0.9M835.0 407.8l0.4 -0.9M835.1 400.2l0.4 -0.9M835.3 392.6l0.4 -0.9M835.4 385.0l0.4 -0.9M835.5 377.3l0.4 -0.9M835.7 369.6l0.4 -0.9M835.8 361.9l0.4 -0.9M836.0 354.1l0.4 -0.9M836.1 346.3l0.4 -0.9M836.3 338.4l0.4 -0.9M836.4 330.6l0.4 -0.9M836.6 322.6l0.4 -0.9M836.7 314.7l0.4 -0.9M836.9 306.7l0.4 -0.9M837.0 298.6l0.4 -0.9M837.2 290.6l0.4 -0.9M838.6 446.6l0.4 -0.9M838.7 439.2l0.4 -0.9M838.9 431.9l0.4 -0.9M839.0 424.4l0.4 -0.9M839.2 417.0l0.4 -0.9M839.3 409.5l0.4 -0.9M839.5 402.0l0.4 -0.9M839.6 394.5l0.4 -0.9M839.8 386.9l0.4 -0.9M839.9 379.3l0.4 -0.9M840.1 371.6l0.4 -0.9M840.2 363.9l0.4 -0.9M840.4 356.2l0.4 -0.9M840.5 348.4l0.4 -0.9M840.7 340.6l0.4 -0.9M840.8 332.8l0.4 -0.9M841.0 324.9l0.4 -0.9M841.1 317.0l0.4 -0.9M842.8 448.1l0.4 -0.9M843.0 440.8l0.4 -0.9M843.1 433.5l0.4 -0.9M843.3 426.1l0.4 -0.9M843.4 418.7l0.4 -0.9M843.6 411.3l0.4 -0.9M843.7 403.8l0.4 -0.9M843.9 396.3l0.4 -0.9M844.1 388.8l0.4 -0.9M844.2 381.2l0.4 -0.9M844.4 373.6l0.4 -0.9M844.5 365.9l0.4 -0.9M844.7 358.3l0.4 -0.9M844.9 350.6l0.4 -0.9M845.0 342.8l0.4 -0.9M845.2 335.0l0.4 -0.9M845.4 327.2l0.4 -0.9M845.5 319.3l0.4 -0.9M845.7 311.4l0.4 -0.9M845.9 303.5l0.4 -0.9M846.0 295.5l0.4 -0.9M846.2 287.5l0.4 -0.9M846.4 279.5l0.4 -0.9M847.2 442.3l0.4 -0.9M847.3 435.1l0.4 -0.9M847.5 427.7l0.4 -0.9M847.7 420.4l0.4 -0.9M847.8 413.0l0.4 -0.9M848.0 405.6l0.4 -0.9M848.2 398.1l0.4 -0.9M848.3 390.6l0.4 -0.9M848.5 383.1l0.4 -0.9M848.7 375.5l0.4 -0.9M848.8 367.9l0.4 -0.9M849.0 360.3l0.4 -0.9M849.2 352.6l0.4 -0.9M849.4 344.9l0.4 -0.9M849.5 337.2l0.4 -0.9M849.7 329.4l0.4 -0.9M849.9 321.6l0.4 -0.9M850.1 313.8l0.4 -0.9M850.2 305.9l0.4 -0.9M850.4 298.0l0.4 -0.9M851.3 443.9l0.4 -0.9M851.5 436.6l0.4 -0.9M851.7 429.4l0.4 -0.9M851.8 422.0l0.4 -0.9M852.0 414.7l0.4 -0.9M852.2 407.3l0.4 -0.9M852.4 399.9l0.4 -0.9M852.5 392.5l0.4 -0.9M852.7 385.0l0.4 -0.9M852.9 377.5l0.4 -0.9M853.1 369.9l0.4 -0.9M853.3 362.3l0.4 -0.9M853.4 354.7l0.4 -0.9M853.6 347.1l0.4 -0.9M853.8 339.4l0.4 -0.9M854.0 331.6l0.4 -0.9M854.2 323.9l0.4 -0.9M854.4 316.1l0.4 -0.9M854.6 308.3l0.4 -0.9M854.7 300.4l0.4 -0.9M854.9 292.5l0.4 -0.9M855.1 284.5l0.4 -0.9M855.3 276.6l0.4 -0.9M855.5 268.5l0.4 -0.9M855.7 260.5l0.4 -0.9M855.9 252.4l0.4 -0.9M855.6 438.2l0.4 -0.9M855.8 431.0l0.4 -0.9M856.0 423.7l0.4 -0.9M856.2 416.4l0.4 -0.9M856.3 409.0l0.4 -0.9M856.5 401.7l0.4 -0.9M856.7 394.3l0.4 -0.9M856.9 386.8l0.4 -0.9M857.1 379.4l0.4 -0.9M857.3 371.9l0.4 -0.9M857.5 364.3l0.4 -0.9M857.7 356.8l0.4 -0.9M857.8 349.2l0.4 -0.9M858.0 341.5l0.4 -0.9M858.2 333.8l0.4 -0.9M858.4 326.1l0.4 -0.9M858.6 318.4l0.4 -0.9M858.8 310.6l0.4 -0.9M859.7 439.7l0.4 -0.9M859.9 432.5l0.4 -0.9M860.1 425.3l0.4 -0.9M860.3 418.1l0.4 -0.9M860.4 410.8l0.4 -0.9M860.6 403.4l0.4 -0.9M860.8 396.1l0.4 -0.9M861.0 388.7l0.4 -0.9M861.2 381.3l0.4 -0.9M861.4 373.8l0.4 -0.9M861.6 366.3l0.4 -0.9M861.8 358.8l0.4 -0.9M862.0 351.2l0.4 -0.9M862.2 343.6l0.4 -0.9M862.4 336.0l0.4 -0.9M862.6 328.3l0.4 -0.9M862.8 320.6l0.4 -0.9M863.0 312.9l0.4 -0.9M863.2 305.1l0.4 -0.9M863.4 297.3l0.4 -0.9M863.7 289.5l0.4 -0.9M863.9 434.1l0.4 -0.9M864.1 426.9l0.4 -0.9M864.3 419.7l0.4 -0.9M864.5 412.5l0.4 -0.9M864.7 405.2l0.4 -0.9M864.9 397.9l0.4 -0.9M865.1 390.5l0.4 -0.9M865.3 383.1l0.4 -0.9M865.5 375.7l0.4 -0.9M865.7 368.3l0.4 -0.9M865.9 360.8l0.4 -0.9M866.1 353.3l0.4 -0.9M866.4 345.7l0.4 -0.9M866.6 338.1l0.4 -0.9M866.8 330.5l0.4 -0.9M867.0 322.9l0.4 -0.9M867.2 315.2l0.4 -0.9M867.4 307.5l0.4 -0.9M867.6 299.7l0.4 -0.9M867.8 291.9l0.4 -0.9M868.1 284.1l0.4 -0.9M868.3 276.2l0.4 -0.9M868.5 268.3l0.4 -0.9M868.7 260.4l0.4 -0.9M867.9 435.7l0.4 -0.9M868.1 428.5l0.4 -0.9M868.3 421.3l0.4 -0.9M868.5 414.1l0.4 -0.9M868.7 406.9l0.4 -0.9M868.9 399.6l0.4 -0.9M869.2 392.3l0.4 -0.9M869.4 385.0l0.4 -0.9M869.6 377.6l0.4 -0.9M869.8 370.2l0.4 -0.9M870.0 362.8l0.4 -0.9M870.2 355.3l0.4 -0.9M870.4 347.8l0.4 -0.9M870.7 340.3l0.4 -0.9M870.9 332.7l0.4 -0.9M871.1 325.1l0.4 -0.9M871.3 317.4l0.4 -0.9M871.5 309.8l0.4 -0.9M871.8 302.1l0.4 -0.9M872.0 294.3l0.4 -0.9M872.2 286.5l0.4 -0.9M872.4 278.7l0.4 -0.9M872.7 270.8l0.4 -0.9" stroke="#908f9f" stroke-width="1.75" stroke-linecap="round" fill="none" opacity="1"/>
<text transform="translate(803.4 214.4) skewY(-13)" style="font-family:'Liberation Serif',serif" font-size="9.6" font-weight="700" fill="#9d9ba8" textLength="36.4" lengthAdjust="spacingAndGlyphs">D-Link</text>
</g>
</g>
</svg></body></html>
